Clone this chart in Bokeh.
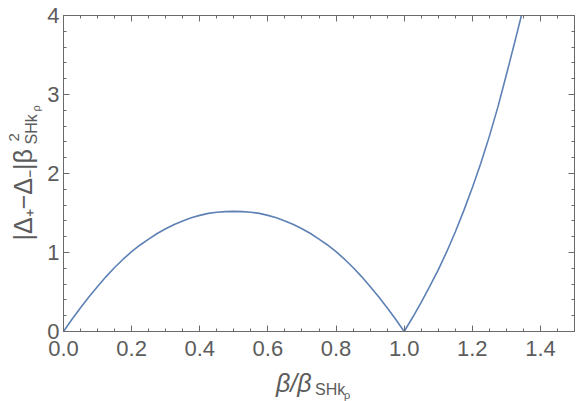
import math
from bokeh.plotting import figure
from bokeh.layouts import row, column
from bokeh.models import (Range1d, LinearAxis, SingleIntervalTicker, Label,
                          CustomJSTickFormatter, PrintfTickFormatter)
from bokeh.embed import file_html
from bokeh.resources import INLINE

# ---- data ----
beta = [0.000, 0.025, 0.050, 0.075, 0.100, 0.125, 0.150, 0.175, 0.200, 0.225,
        0.250, 0.275, 0.300, 0.325, 0.350, 0.375, 0.400, 0.425, 0.450, 0.475,
        0.500, 0.525, 0.550, 0.575, 0.600, 0.625, 0.650, 0.675, 0.700, 0.725,
        0.750, 0.775, 0.800, 0.825, 0.850, 0.875, 0.900, 0.925, 0.950, 0.975,
        1.000, 1.025, 1.050, 1.075, 1.100, 1.125, 1.150, 1.175, 1.200, 1.225,
        1.250, 1.275, 1.300, 1.325, 1.350]
gap = [0.000, 0.155, 0.300, 0.440, 0.570, 0.695, 0.810, 0.915, 1.010, 1.095,
       1.170, 1.240, 1.300, 1.355, 1.400, 1.440, 1.470, 1.495, 1.510, 1.518,
       1.520, 1.518, 1.510, 1.495, 1.470, 1.440, 1.400, 1.355, 1.300, 1.240,
       1.170, 1.095, 1.010, 0.915, 0.810, 0.695, 0.570, 0.440, 0.300, 0.155,
       0.000, 0.180, 0.370, 0.570, 0.780, 1.010, 1.260, 1.530, 1.820, 2.130,
       2.470, 2.840, 3.250, 3.670, 4.100]

x_tick_interval = 0.2
y_tick_interval = 1.0

W, H = 576, 401
LW = 44                      # strip holding the y title
XH = 31                      # strip holding the x title
FRAME_L, FRAME_R = 62, 574   # main frame edges (px)
LINE = "#5E81B5"
AX = "#6a6a6a"
TXT = "#5c5c5c"
FONT = "Liberation Sans"

p = figure(width=W - LW, height=H - XH, x_range=Range1d(0, 1.5), y_range=Range1d(0, 4),
           output_backend="svg", toolbar_location=None, title=None,
           x_axis_type=None, y_axis_type=None,
           min_border_left=FRAME_L - LW, min_border_right=W - FRAME_R, min_border_top=15,
           min_border_bottom=H - XH - 331)
p.grid.visible = False
p.outline_line_color = AX
p.background_fill_color = "white"
p.border_fill_color = "white"

def style(ax, labels=True):
    ax.axis_line_color = AX
    ax.major_tick_line_color = AX
    ax.minor_tick_line_color = AX
    ax.major_tick_in = 6
    ax.major_tick_out = 0
    ax.minor_tick_in = 3
    ax.minor_tick_out = 0
    ax.major_label_text_color = TXT
    ax.major_label_text_font = FONT
    ax.major_label_text_font_size = "22px"
    if not labels:
        ax.formatter = CustomJSTickFormatter(code="return ''")
        ax.major_label_standoff = 0

xb = LinearAxis(ticker=SingleIntervalTicker(interval=x_tick_interval, num_minor_ticks=4),
                formatter=PrintfTickFormatter(format="%.1f"))
style(xb)
xb.major_label_standoff = 9
p.add_layout(xb, "below")

xt = LinearAxis(ticker=SingleIntervalTicker(interval=x_tick_interval, num_minor_ticks=4))
style(xt, labels=False)
p.add_layout(xt, "above")

yl = LinearAxis(ticker=SingleIntervalTicker(interval=y_tick_interval, num_minor_ticks=5),
                formatter=PrintfTickFormatter(format="%d"))
style(yl)
yl.major_label_standoff = 4
p.add_layout(yl, "left")

yr = LinearAxis(ticker=SingleIntervalTicker(interval=y_tick_interval, num_minor_ticks=5))
style(yr, labels=False)
p.add_layout(yr, "right")

p.line(beta, gap, line_color=LINE, line_width=1.6)

# ---------------- title strips: data units = picture pixels ----------------
def strip(w, h, xr, y0):
    f = figure(width=w, height=h, x_range=Range1d(*xr), y_range=Range1d(y0 + h, y0),
               output_backend="svg", toolbar_location=None, title=None,
               x_axis_type=None, y_axis_type=None,
               min_border_left=0, min_border_right=0, min_border_top=0, min_border_bottom=0)
    f.grid.visible = False
    f.outline_line_color = None
    f.background_fill_color = "white"
    f.border_fill_color = "white"
    return f

def lab(f, x, y, text, size, angle=0.0, style_="normal"):
    # (x, y): start of the text, centred across its line box
    f.add_layout(Label(x=x, y=y, text=text, angle=angle, text_font=FONT,
                       text_font_size=f"{size}px", text_color=TXT,
                       text_font_style=style_, text_align="left",
                       text_baseline="middle"))

def base(b, size, sign):
    # line-box centre for a wanted baseline position
    return b + sign * 0.35 * size

fy = strip(LW, H, (0, LW), 0)
R = math.pi / 2
lab(fy, base(31.5, 25, -1), 240, "|Δ₊−Δ₋|β", 25, angle=R)
lab(fy, base(18.5, 15, -1), 141, "2", 15, angle=R)
lab(fy, base(37, 16, -1), 144, "SHk", 16, angle=R)
lab(fy, base(39.5, 11, -1), 111, "ρ", 11, angle=R)

fx = strip(W - LW, XH, (FRAME_L, FRAME_R), H - XH)
lab(fx, 275, base(391, 25, -1), "β/β", 25, style_="italic")
lab(fx, 314, base(395, 16, -1), "SHk", 16)
lab(fx, 343, base(398, 11, -1), "ρ", 11)

layout = row(fy, column(p, fx, spacing=0), spacing=0)
open("out.html", "w").write(file_html(layout, INLINE))
